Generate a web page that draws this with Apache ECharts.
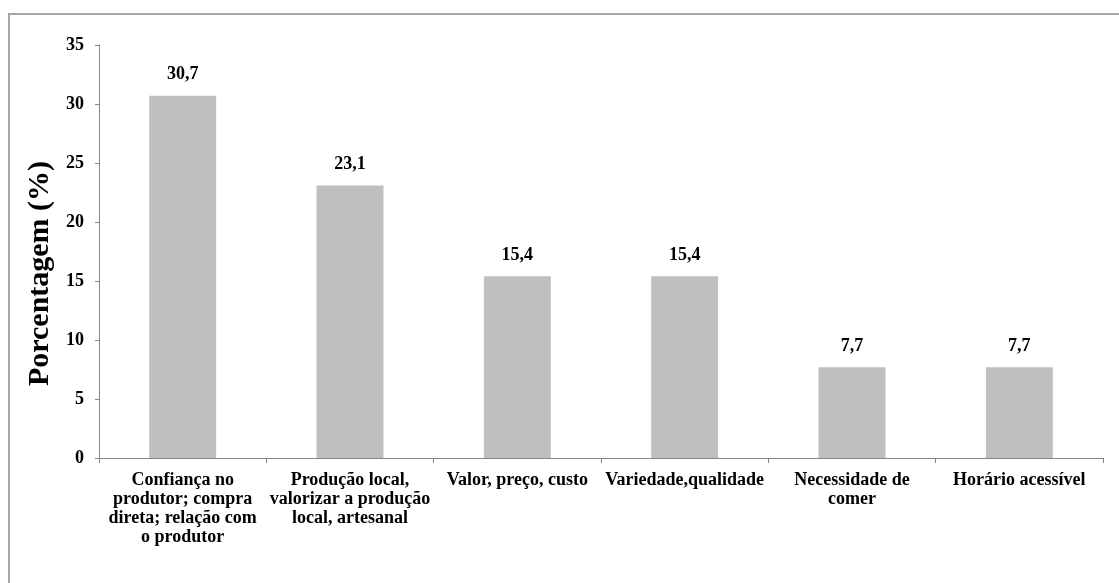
<!DOCTYPE html>
<html>
<head>
<meta charset="utf-8">
<script src="https://cdn.jsdelivr.net/npm/echarts@6/dist/echarts.min.js"></script>
<style>
  html, body { margin: 0; padding: 0; background: #ffffff; }
  #chart { width: 1119px; height: 583px; }
</style>
</head>
<body>
<div id="chart"></div>
<script>
// Motivos de compra — percentual de respostas
const categories = [
  'Confiança no\nprodutor; compra\ndireta; relação com\no produtor',
  'Produção local,\nvalorizar a produção\nlocal, artesanal',
  'Valor, preço, custo',
  'Variedade,qualidade',
  'Necessidade de\ncomer',
  'Horário acessível'
];
const percentages = [30.7, 23.1, 15.4, 15.4, 7.7, 7.7];
const yTicks = { min: 0, max: 35, interval: 5 };
const yAxisTitle = 'Porcentagem (%)';

const serif = '"Liberation Serif", "Times New Roman", serif';
const chart = echarts.init(document.getElementById('chart'), null, { renderer: 'canvas' });

chart.setOption({
  backgroundColor: '#ffffff',
  animation: false,
  graphic: [{
    type: 'rect',
    shape: { x: 9, y: 14, width: 1300, height: 800 },
    style: { fill: 'none', stroke: '#a6a6a6', lineWidth: 2 },
    silent: true,
    z: -10
  }],
  grid: { left: 99, right: 16, top: 45, bottom: 125, containLabel: false },
  xAxis: {
    type: 'category',
    data: categories,
    axisLine: { lineStyle: { color: '#868686', width: 1 } },
    axisTick: { show: true, length: 5, lineStyle: { color: '#868686' } },
    axisLabel: {
      interval: 0,
      color: '#000000',
      fontFamily: serif,
      fontWeight: 'bold',
      fontSize: 18,
      lineHeight: 19,
      margin: 13
    }
  },
  yAxis: {
    type: 'value',
    min: yTicks.min,
    max: yTicks.max,
    interval: yTicks.interval,
    name: yAxisTitle,
    nameLocation: 'middle',
    nameGap: 41,
    nameTextStyle: {
      color: '#000000',
      fontFamily: serif,
      fontWeight: 'bold',
      fontSize: 30,
      padding: [0, 44, 0, 0]
    },
    axisLine: { show: true, lineStyle: { color: '#868686', width: 1 } },
    axisTick: { show: true, length: 4, lineStyle: { color: '#868686' } },
    splitLine: { show: false },
    axisLabel: {
      color: '#000000',
      fontFamily: serif,
      fontWeight: 'bold',
      fontSize: 18,
      margin: 15
    }
  },
  series: [{
    type: 'bar',
    data: percentages,
    barWidth: '40%',
    itemStyle: { color: '#bfbfbf' },
    label: {
      show: true,
      position: 'top',
      distance: 12,
      color: '#000000',
      fontFamily: serif,
      fontWeight: 'bold',
      fontSize: 18,
      formatter: p => p.value.toFixed(1).replace('.', ',')
    }
  }]
});
</script>
</body>
</html>
